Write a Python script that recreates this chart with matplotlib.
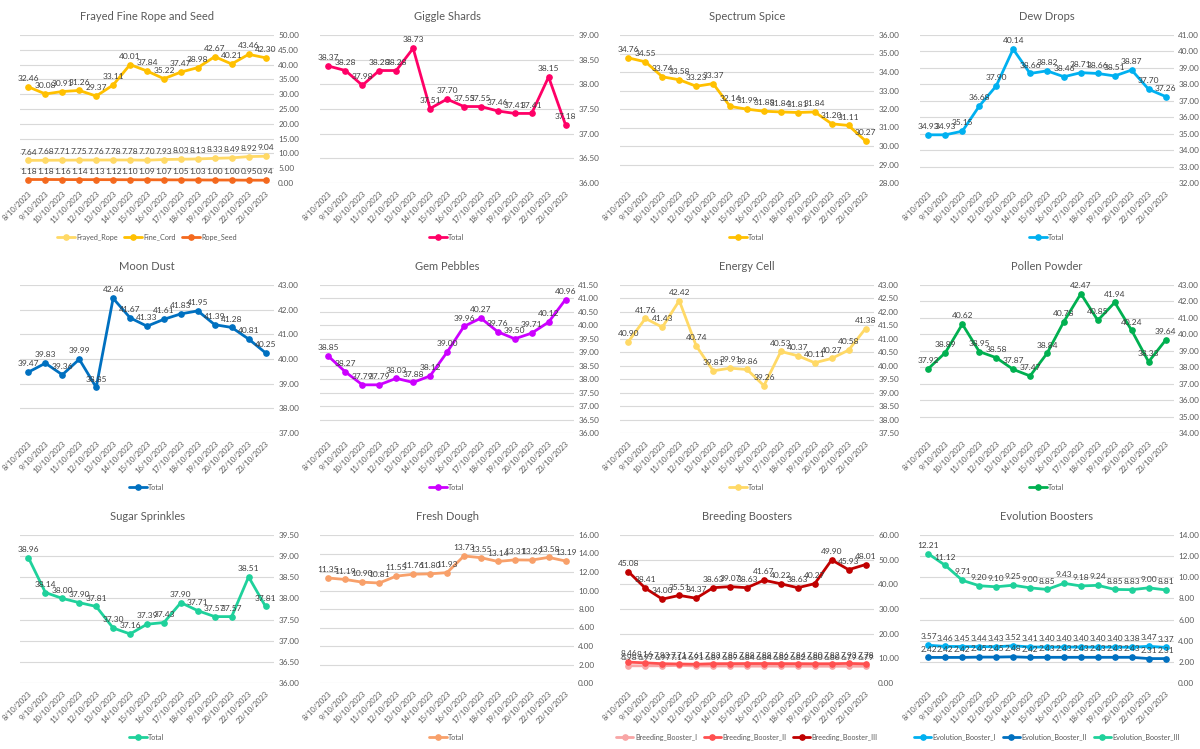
import matplotlib
matplotlib.use('Agg')
import matplotlib.pyplot as plt
import numpy as np
from matplotlib.ticker import FormatStrFormatter

dates = ["8/10/2023", "9/10/2023", "10/10/2023", "11/10/2023", "12/10/2023",
         "13/10/2023", "14/10/2023", "15/10/2023", "16/10/2023", "17/10/2023",
         "18/10/2023", "19/10/2023", "20/10/2023", "22/10/2023", "23/10/2023"]

frayed_rope = [7.64, 7.68, 7.71, 7.75, 7.76, 7.78, 7.78, 7.70, 7.93, 8.03, 8.13, 8.33, 8.49, 8.92, 9.04]
fine_cord = [32.46, 30.08, 30.91, 31.26, 29.37, 33.11, 40.01, 37.84, 35.22, 37.47, 38.98, 42.67, 40.21, 43.46, 42.30]
rope_seed = [1.18, 1.18, 1.16, 1.14, 1.13, 1.12, 1.10, 1.09, 1.07, 1.05, 1.03, 1.00, 1.00, 0.95, 0.94]
giggle_shards = [38.37, 38.28, 37.98, 38.28, 38.28, 38.73, 37.51, 37.70, 37.55, 37.55, 37.46, 37.41, 37.41, 38.15, 37.18]
spectrum_spice = [34.76, 34.55, 33.74, 33.58, 33.23, 33.37, 32.14, 31.99, 31.88, 31.84, 31.81, 31.84, 31.20, 31.11, 30.27]
dew_drops = [34.93, 34.93, 35.15, 36.68, 37.90, 40.14, 38.66, 38.82, 38.46, 38.71, 38.66, 38.51, 38.87, 37.70, 37.26]
moon_dust = [39.47, 39.83, 39.36, 39.99, 38.85, 42.46, 41.67, 41.33, 41.61, 41.83, 41.95, 41.39, 41.28, 40.81, 40.25]
gem_pebbles = [38.85, 38.27, 37.79, 37.79, 38.03, 37.88, 38.12, 39.00, 39.96, 40.27, 39.76, 39.50, 39.71, 40.12, 40.96]
energy_cell = [40.90, 41.76, 41.43, 42.42, 40.74, 39.81, 39.91, 39.86, 39.26, 40.53, 40.37, 40.11, 40.27, 40.58, 41.38]
pollen_powder = [37.92, 38.89, 40.62, 38.95, 38.58, 37.87, 37.47, 38.84, 40.78, 42.47, 40.85, 41.94, 40.24, 38.33, 39.64]
sugar_sprinkles = [38.96, 38.14, 38.00, 37.90, 37.81, 37.30, 37.16, 37.39, 37.43, 37.90, 37.71, 37.57, 37.57, 38.51, 37.81]
fresh_dough = [11.35, 11.19, 10.90, 10.81, 11.55, 11.76, 11.80, 11.93, 13.73, 13.55, 13.14, 13.31, 13.29, 13.58, 13.19]
breeding_1 = [6.98, 6.97, 6.97, 7.14, 6.91, 6.89, 6.89, 6.84, 6.84, 6.82, 6.82, 6.80, 6.80, 6.79, 6.79]
breeding_2 = [8.46, 8.16, 7.83, 7.71, 7.61, 7.83, 7.85, 7.88, 7.88, 7.86, 7.84, 7.80, 7.82, 7.93, 7.78]
breeding_3 = [45.08, 38.41, 34.00, 35.51, 34.37, 38.63, 39.07, 38.63, 41.67, 40.22, 38.63, 40.27, 49.90, 45.93, 48.01]
evolution_1 = [3.57, 3.46, 3.45, 3.44, 3.43, 3.52, 3.41, 3.40, 3.40, 3.40, 3.40, 3.40, 3.38, 3.47, 3.37]
evolution_2 = [2.42, 2.42, 2.42, 2.45, 2.45, 2.48, 2.42, 2.43, 2.43, 2.43, 2.43, 2.43, 2.43, 2.31, 2.31]
evolution_3 = [12.21, 11.12, 9.71, 9.20, 9.10, 9.25, 9.00, 8.85, 9.43, 9.18, 9.24, 8.85, 8.83, 9.00, 8.81]

plt.rcParams['font.family'] = ['Lato', 'DejaVu Sans']

panels = [
    ("Frayed Fine Rope and Seed", [("Frayed_Rope", frayed_rope, '#FFD966'),
                                   ("Fine_Cord", fine_cord, '#FFC000'),
                                   ("Rope_Seed", rope_seed, '#F4691E')], (0, 50, 5)),
    ("Giggle Shards", [("Total", giggle_shards, '#FF0066')], (36, 39, 0.5)),
    ("Spectrum Spice", [("Total", spectrum_spice, '#FFC000')], (28, 36, 1)),
    ("Dew Drops", [("Total", dew_drops, '#00B0F0')], (32, 41, 1)),
    ("Moon Dust", [("Total", moon_dust, '#0070C0')], (37, 43, 1)),
    ("Gem Pebbles", [("Total", gem_pebbles, '#CC00FF')], (36, 41.5, 0.5)),
    ("Energy Cell", [("Total", energy_cell, '#FFD966')], (37.5, 43, 0.5)),
    ("Pollen Powder", [("Total", pollen_powder, '#00B050')], (34, 43, 1)),
    ("Sugar Sprinkles", [("Total", sugar_sprinkles, '#1FD19B')], (36, 39.5, 0.5)),
    ("Fresh Dough", [("Total", fresh_dough, '#F8A06A')], (0, 16, 2)),
    ("Breeding Boosters", [("Breeding_Booster_I", breeding_1, '#F8A5A5'),
                           ("Breeding_Booster_II", breeding_2, '#FF5050'),
                           ("Breeding_Booster_III", breeding_3, '#C00000')], (0, 60, 10)),
    ("Evolution Boosters", [("Evolution_Booster_I", evolution_1, '#00B0F0'),
                            ("Evolution_Booster_II", evolution_2, '#0070C0'),
                            ("Evolution_Booster_III", evolution_3, '#1FD19B')], (0, 14, 2)),
]

W, H = 1200, 749
fig = plt.figure(figsize=(12, 7.49), dpi=100)
fs_lab = 6.0
fs_ytick = 5.9
fs_xtick = 5.5
fs_leg = 5.2
x = np.arange(len(dates))

for i, (title, series, (lo, hi, step)) in enumerate(panels):
    r, c = divmod(i, 4)
    x0 = 300 * c
    y0 = 250 * r
    top = y0 + 35
    bottom = y0 + 183
    ax = fig.add_axes([(x0 + 20) / W, 1 - bottom / H, 254 / W, (bottom - top) / H])
    for name, vals, col in series:
        ax.plot(x, vals, color=col, lw=2, marker='o', ms=3.8, label=name,
                solid_capstyle='round', zorder=3)
        for xi, v in zip(x, vals):
            ax.annotate(f"{v:.2f}", (xi, v), xytext=(0, 3.5), textcoords='offset points',
                        ha='center', va='bottom', fontsize=fs_lab, color='#404040', zorder=4)
    ax.set_ylim(lo, hi)
    ax.set_yticks(np.arange(lo, hi + step / 2, step))
    ax.yaxis.tick_right()
    ax.yaxis.set_major_formatter(FormatStrFormatter('%.2f'))
    ax.tick_params(axis='y', length=0, labelsize=fs_ytick, labelcolor='#595959', pad=3)
    ax.set_xlim(-0.5, 14.5)
    ax.set_xticks(x)
    ax.set_xticklabels(dates, rotation=45, ha='right', rotation_mode='anchor')
    ax.tick_params(axis='x', length=0, labelsize=fs_xtick, labelcolor='#595959', pad=5)
    ax.grid(axis='y', color='#D9D9D9', lw=0.8)
    ax.set_axisbelow(True)
    for s in ax.spines.values():
        s.set_visible(False)
    ax.set_title(title, fontsize=8, color='#595959', pad=11)
    ax.legend(loc='center', bbox_to_anchor=(0.5, -0.365), ncol=len(series), frameon=False,
              fontsize=fs_leg, labelcolor='#595959', handlelength=2.4, handletextpad=0.2,
              columnspacing=0.9, borderaxespad=0)

fig.savefig('out.png', dpi=100, facecolor='white')
